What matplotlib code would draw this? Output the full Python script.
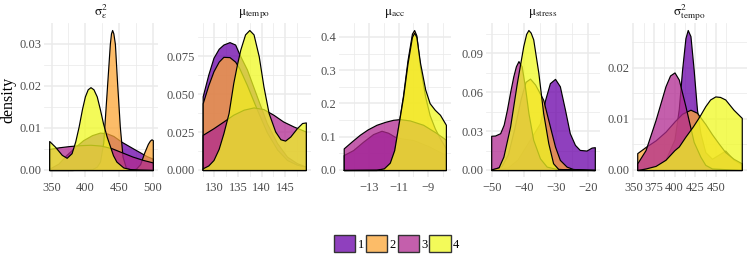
import matplotlib
matplotlib.use("Agg")
import matplotlib.pyplot as plt
from matplotlib.colors import to_rgba
from matplotlib.patches import Patch

plt.rcParams['font.family'] = 'serif'
plt.rcParams['font.serif'] = ['Liberation Serif', 'DejaVu Serif']
plt.rcParams['mathtext.fontset'] = 'stix'

# groups, plasma colours filled with alpha like geom_density(alpha = .75)
group_labels = ['1', '2', '3', '4']
group_colors = ['#6A00A8', '#FCA636', '#B12A90', '#F0F921']
fill_alpha = 0.75

# ---- density curves (x, density) ----
# sigma^2_epsilon
s2eps_x1 = [346.4, 360, 372.1, 385, 396.8, 410, 421.7, 432, 441.5, 453.8, 471.1, 490.9, 500]
s2eps_y1 = [0.0003, 0.0015, 0.0036, 0.0055, 0.0071, 0.0083, 0.0089, 0.0087, 0.0081, 0.0067, 0.0051, 0.0033, 0.0027]
s2eps_x2 = [346.4, 380, 410, 417, 421.7, 426.5, 431.4, 436.3, 438, 439.7, 441.5, 443.8, 447.1, 451.1,
            455.1, 460, 468, 475, 481.2, 487.4, 492.6, 495.7, 498.1, 500]
s2eps_y2 = [0.0, 0.0, 0.0002, 0.0008, 0.002, 0.0065, 0.0182, 0.030, 0.0325, 0.0333, 0.0325, 0.030, 0.0206, 0.0103,
            0.0032, 0.0006, 0.0001, 0.0003, 0.0014, 0.0042, 0.0062, 0.0070, 0.0073, 0.0071]
s2eps_x3 = [346.4, 360.9, 376.5, 392, 407.6, 423.1, 438.7, 454.2, 469.8, 485.3, 500]
s2eps_y3 = [0.0050, 0.0054, 0.0057, 0.0059, 0.0060, 0.0058, 0.0052, 0.0042, 0.0032, 0.0024, 0.0018]
s2eps_x4 = [346.4, 354.7, 365.1, 372.3, 379.6, 385, 390, 395, 399.3, 403.5, 407.6, 412, 416.9, 421.5,
            426.2, 431.5, 436.6, 441, 446, 456.3, 466.7, 480.2, 500]
s2eps_y4 = [0.0069, 0.0056, 0.0036, 0.0029, 0.0040, 0.0068, 0.0103, 0.0145, 0.0175, 0.0192, 0.0197, 0.0192,
            0.0175, 0.0145, 0.0111, 0.0080, 0.0056, 0.0035, 0.0020, 0.0006, 0.0002, 0.0001, 0.0]

# mu_tempo
mtempo_x1 = [127.5, 128.7, 129.8, 130.9, 131.9, 133.2, 134.4, 135.3, 136.9, 139.0, 141.1, 143.3, 145.4, 147.5, 149.4]
mtempo_y1 = [0.0486, 0.063, 0.0741, 0.080, 0.0828, 0.0844, 0.0828, 0.0763, 0.0663, 0.0486, 0.031, 0.0177,
             0.0088, 0.0045, 0.0022]
mtempo_x2 = [127.5, 128.7, 129.8, 130.9, 131.9, 133.2, 134.4, 135.3, 136.9, 139.0, 141.1, 143.3, 145.4, 147.5, 149.4]
mtempo_y2 = [0.044, 0.056, 0.0652, 0.0715, 0.0747, 0.0745, 0.0715, 0.0670, 0.0560, 0.040, 0.0250, 0.0135,
             0.0066, 0.0035, 0.0022]
mtempo_x3 = [127.5, 129.8, 131.9, 134.0, 136.2, 138.3, 140.4, 142.5, 144.6, 146.8, 149.4]
mtempo_y3 = [0.0232, 0.0276, 0.032, 0.0365, 0.0398, 0.0413, 0.0402, 0.0365, 0.032, 0.0287, 0.0254]
mtempo_x4 = [127.5, 128.7, 129.8, 130.9, 131.9, 133.0, 134.0, 134.8, 135.5, 136.5, 137.4, 138.3, 139.4,
             140.4, 141.5, 142.9, 144.0, 145.0, 146.1, 147.5, 148.6, 149.4]
mtempo_y4 = [0.0011, 0.003, 0.0066, 0.014, 0.0243, 0.0376, 0.0575, 0.070, 0.0796, 0.0895, 0.0924, 0.0895,
             0.0751, 0.0552, 0.0376, 0.0254, 0.0203, 0.0194, 0.0221, 0.0276, 0.0310, 0.0314]

# mu_acc
macc_x1 = [-14.72, -14.08, -13.41, -12.73, -12.16, -11.71, -11.26, -10.8, -10.0, -9.0, -7.8]
macc_y1 = [0.045, 0.060, 0.085, 0.108, 0.118, 0.112, 0.100, 0.095, 0.090, 0.072, 0.045]
macc_x2 = [-14.72, -12.5, -12.0, -11.6, -11.3, -11.0, -10.7, -10.4, -10.1, -9.95, -9.8, -9.55, -9.2,
           -8.9, -8.55, -8.2, -7.8]
macc_y2 = [0.0, 0.0, 0.004, 0.02, 0.058, 0.14, 0.225, 0.33, 0.41, 0.421, 0.405, 0.31, 0.22,
           0.165, 0.125, 0.095, 0.065]
macc_x3 = [-14.72, -14.2, -13.63, -13.1, -12.5, -11.9, -11.37, -10.92, -10.24, -9.34, -8.43, -7.8]
macc_y3 = [0.065, 0.085, 0.106, 0.122, 0.136, 0.145, 0.151, 0.153, 0.149, 0.136, 0.111, 0.091]
macc_x4 = [-14.72, -12.5, -12.0, -11.6, -11.3, -11.0, -10.7, -10.4, -10.1, -9.95, -9.8, -9.55, -9.2,
           -8.9, -8.55, -8.2, -7.8]
macc_y4 = [0.0, 0.001, 0.005, 0.022, 0.06, 0.14, 0.22, 0.32, 0.40, 0.413, 0.40, 0.322, 0.242,
           0.201, 0.181, 0.166, 0.136]

# mu_stress
mstress_x1 = [-50.2, -45, -42, -39, -36.5, -35, -33.4, -31.9, -30.3, -28.8, -27.2, -25.7, -24.1, -22.6,
              -20.5, -18.9, -17.9]
mstress_y1 = [0.0, 0.002, 0.008, 0.02, 0.03, 0.036, 0.054, 0.067, 0.0703, 0.0646, 0.0465, 0.0284, 0.0194,
              0.0155, 0.015, 0.0173, 0.0176]
mstress_x2 = [-50.2, -47, -45, -43, -41, -39.5, -38.1, -36.5, -34.0, -31.9, -30.3, -28.8, -26.7, -24.7, -20.5, -17.9]
mstress_y2 = [0.0, 0.003, 0.012, 0.032, 0.055, 0.068, 0.0705, 0.0659, 0.0543, 0.0336, 0.018, 0.0078,
              0.0026, 0.0008, 0.0001, 0.0]
mstress_x3 = [-50.2, -49, -47.4, -46.3, -45.3, -44.3, -43.3, -42.5, -41.7, -40.7, -39.7, -38.6, -37.1,
              -35, -32.9, -29.8, -17.9]
mstress_y3 = [0.0264, 0.0266, 0.0284, 0.035, 0.0465, 0.060, 0.0723, 0.080, 0.084, 0.080, 0.0646, 0.044,
              0.0233, 0.009, 0.0026, 0.0008, 0.0]
mstress_x4 = [-50.2, -47.9, -46.4, -44.3, -42.2, -40.2, -39.3, -38.6, -37.9, -37.1, -35.5, -34.0, -32.4,
              -30.9, -29.3, -17.9]
mstress_y4 = [0.0005, 0.002, 0.0103, 0.0336, 0.0672, 0.0956, 0.105, 0.108, 0.106, 0.1008, 0.075, 0.044,
              0.0207, 0.0052, 0.0008, 0.0]

# sigma^2_tempo
s2tempo_x1 = [354.8, 377, 389, 399.9, 405.1, 409, 413.1, 415.9, 419.2, 423.1, 427.1, 431.2, 437.2, 445.2,
              453.3, 461.3, 471.3, 481.3]
s2tempo_y1 = [0.0, 0.0005, 0.002, 0.006, 0.012, 0.0195, 0.0258, 0.0274, 0.0262, 0.0196, 0.0118, 0.0072,
              0.0035, 0.0022, 0.003, 0.0038, 0.002, 0.001]
s2tempo_x2 = [354.8, 364.9, 377, 389, 399.9, 409, 419.2, 427.1, 437.2, 445.2, 453.3, 461.3, 471.3, 481.3]
s2tempo_y2 = [0.0033, 0.0045, 0.0058, 0.0075, 0.0095, 0.011, 0.0118, 0.0112, 0.009, 0.007, 0.0052,
              0.0035, 0.0022, 0.0013]
s2tempo_x3 = [354.8, 364.9, 377, 389, 394.5, 399.9, 405.1, 413.1, 423.1, 431.2, 437.2, 445.2, 481.3]
s2tempo_y3 = [0.0013, 0.0039, 0.0098, 0.0164, 0.0185, 0.0191, 0.0177, 0.0125, 0.0055, 0.0026, 0.001,
              0.0003, 0.0]
s2tempo_x4 = [354.8, 364.9, 377, 389, 399.9, 405.1, 413, 422, 430, 437.2, 443, 449.3, 455, 461.3, 471.3, 481.3]
s2tempo_y4 = [0.0, 0.0003, 0.0008, 0.002, 0.0039, 0.0046, 0.0065, 0.0085, 0.0105, 0.0125, 0.0138, 0.0144,
              0.0143, 0.0138, 0.0118, 0.0102]

# facet titles (upright greek like R plotmath) and axis breaks
panel_titles = [r'$\mathrm{\sigma}^2_{\mathrm{\varepsilon}}$', r'$\mathrm{\mu}_{\mathrm{tempo}}$',
                r'$\mathrm{\mu}_{\mathrm{acc}}$', r'$\mathrm{\mu}_{\mathrm{stress}}$',
                r'$\mathrm{\sigma}^2_{\mathrm{tempo}}$']
x_breaks = [[350, 400, 450, 500], [130, 135, 140, 145], [-13, -11, -9], [-50, -40, -30, -20],
            [350, 375, 400, 425, 450]]
y_breaks = [[0, 0.01, 0.02, 0.03], [0, 0.025, 0.05, 0.075], [0, 0.1, 0.2, 0.3, 0.4], [0, 0.03, 0.06, 0.09],
            [0, 0.01, 0.02]]
y_fmt = ['{:.2f}', '{:.3f}', '{:.1f}', '{:.2f}', '{:.2f}']

panel_curves = [
    [(s2eps_x1, s2eps_y1), (s2eps_x2, s2eps_y2), (s2eps_x3, s2eps_y3), (s2eps_x4, s2eps_y4)],
    [(mtempo_x1, mtempo_y1), (mtempo_x2, mtempo_y2), (mtempo_x3, mtempo_y3), (mtempo_x4, mtempo_y4)],
    [(macc_x1, macc_y1), (macc_x2, macc_y2), (macc_x3, macc_y3), (macc_x4, macc_y4)],
    [(mstress_x1, mstress_y1), (mstress_x2, mstress_y2), (mstress_x3, mstress_y3), (mstress_x4, mstress_y4)],
    [(s2tempo_x1, s2tempo_y1), (s2tempo_x2, s2tempo_y2), (s2tempo_x3, s2tempo_y3), (s2tempo_x4, s2tempo_y4)],
]

W, H = 747, 256
fig = plt.figure(figsize=(W / 100, H / 100), dpi=100)

# panel placement in pixels (left, width); all share the same vertical band
panel_px = [(44, 114), (197.5, 113.5), (338.6, 112.4), (486, 114), (632, 115)]
top_px, bottom_px = 23, 177

grid_col = '#EBEBEB'
tick_size = 9


def minor_breaks(breaks):
    step = breaks[1] - breaks[0]
    out = [breaks[0] - step / 2]
    for b in breaks:
        out.append(b + step / 2)
    return out


def fmt_num(v, fmt):
    s = fmt.format(v)
    return s.replace('-', '\u2212')


for i, curves in enumerate(panel_curves):
    left, width = panel_px[i]
    ax = fig.add_axes([left / W, 1 - bottom_px / H, width / W, (bottom_px - top_px) / H])

    for k, (xs, ys) in enumerate(curves):
        ax.fill_between(xs, ys, 0, facecolor=to_rgba(group_colors[k], fill_alpha),
                        edgecolor='black', linewidth=0.85, zorder=2 + k)

    # free scales with 5% expansion, as ggplot does
    all_x = [v for xs, _ in curves for v in xs]
    all_y = [v for _, ys in curves for v in ys]
    xmin, xmax = min(all_x), max(all_x)
    ymax = max(all_y)
    xpad = 0.05 * (xmax - xmin)

    ax.set_xticks(x_breaks[i])
    ax.set_xticklabels([fmt_num(v, '{:g}') for v in x_breaks[i]])
    ax.set_yticks(y_breaks[i])
    ax.set_yticklabels([fmt_num(v, y_fmt[i]) for v in y_breaks[i]])
    ax.set_xticks(minor_breaks(x_breaks[i]), minor=True)
    ax.set_yticks(minor_breaks(y_breaks[i]), minor=True)
    ax.set_xlim(xmin - xpad, xmax + xpad)
    ax.set_ylim(-0.05 * ymax, 1.05 * ymax)

    ax.grid(which='major', color=grid_col, linewidth=1.1)
    ax.grid(which='minor', color=grid_col, linewidth=0.55)
    ax.set_axisbelow(True)
    for sp in ax.spines.values():
        sp.set_visible(False)
    ax.tick_params(which='both', length=0)
    ax.tick_params(axis='x', pad=3.5, labelsize=tick_size, labelcolor='#4D4D4D')
    ax.tick_params(axis='y', pad=2.0, labelsize=tick_size, labelcolor='#4D4D4D')

    ax.set_title(panel_titles[i], fontsize=9.5, color='#1A1A1A', pad=5.5)

fig.text(8.5 / W, 1 - 100 / H, 'density', rotation=90, ha='center', va='center', fontsize=11.5)

handles = [Patch(facecolor=to_rgba(c, fill_alpha), edgecolor='#333333', linewidth=1.0, label=l)
           for c, l in zip(group_colors, group_labels)]
fig.legend(handles=handles, loc='center', bbox_to_anchor=(0.531, 0.049), ncol=4, frameon=False,
           handlelength=1.7, handleheight=1.7, handletextpad=0.2, columnspacing=0.15,
           fontsize=tick_size, borderpad=0, borderaxespad=0)

fig.savefig('out.png', dpi=100)
